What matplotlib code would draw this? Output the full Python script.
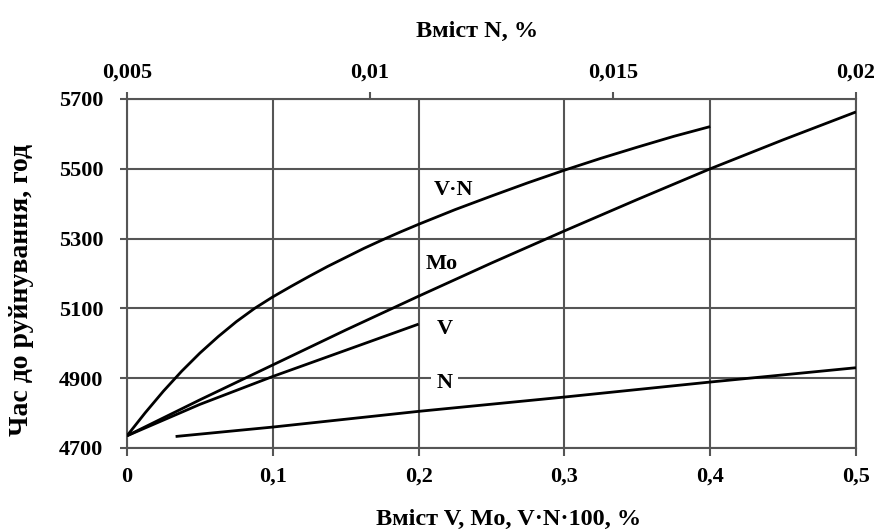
import matplotlib
matplotlib.use("Agg")
import matplotlib.pyplot as plt

# Bottom axis: content of V, Mo, V·N·100, %
vn_x = [0.0, 0.0125, 0.025, 0.0375, 0.05, 0.0625, 0.075, 0.0875, 0.1,
        0.1125, 0.125, 0.1375, 0.15, 0.1625, 0.175, 0.1875, 0.2,
        0.225, 0.25, 0.275, 0.3, 0.325, 0.35, 0.375, 0.4]
vn_y = [4735, 4801, 4863, 4920, 4972, 5019, 5062, 5100, 5133,
        5163, 5192, 5220, 5246, 5272, 5296, 5319, 5341,
        5383, 5422, 5460, 5496, 5530, 5562, 5593, 5621]

mo_x = [0.0, 0.05, 0.1, 0.15, 0.2, 0.25, 0.3, 0.35, 0.4, 0.45, 0.5]
mo_y = [4735, 4838, 4938, 5038, 5135, 5230, 5322, 5412, 5500, 5583, 5663]

v_x = [0.0, 0.05, 0.1, 0.15, 0.2]
v_y = [4735, 4825, 4905, 4980, 5055]

# Top axis: content of N, %
n_x = [0.006, 0.008, 0.011, 0.014, 0.017, 0.02]
n_y = [4733, 4760, 4805, 4846, 4889, 4930]

bottom_ticks = [0.0, 0.1, 0.2, 0.3, 0.4, 0.5]
bottom_labels = ["0", "0,1", "0,2", "0,3", "0,4", "0,5"]
top_ticks = [0.005, 0.01, 0.015, 0.02]
top_labels = ["0,005", "0,01", "0,015", "0,02"]
y_ticks = [4700, 4900, 5100, 5300, 5500, 5700]
y_labels = ["4700", "4900", "5100", "5300", "5500", "5700"]

plt.rcParams['font.family'] = ['Liberation Serif', 'DejaVu Serif']
plt.rcParams['font.weight'] = 'bold'

fig = plt.figure(figsize=(8.82, 5.31), dpi=100)
ax = fig.add_axes([127/882, 83/531, 729/882, 349/531])

grid_c = '#555555'
ax.set_xlim(0, 0.5)
ax.set_ylim(4700, 5700)
ax.set_xticks(bottom_ticks)
ax.set_xticklabels(bottom_labels)
ax.set_yticks(y_ticks)
ax.set_yticklabels(y_labels)
ax.grid(True, color=grid_c, linewidth=1.5)
for s in ax.spines.values():
    s.set_color(grid_c)
    s.set_linewidth(1.5)
ax.tick_params(axis='x', labelsize=16, color=grid_c, width=1.5, length=5.5, pad=8)
ax.tick_params(axis='y', labelsize=16, color=grid_c, width=1.5, length=5, pad=12)

lw = 2.0
ax.plot(vn_x, vn_y, color='black', lw=lw, solid_capstyle='butt', solid_joinstyle='round', zorder=3)
ax.plot(mo_x, mo_y, color='black', lw=lw, solid_capstyle='butt', solid_joinstyle='round', zorder=3)
ax.plot(v_x, v_y, color='black', lw=lw, solid_capstyle='butt', solid_joinstyle='round', zorder=3)

ax2 = ax.twiny()
ax2.set_xlim(0.005, 0.02)
ax2.set_xticks(top_ticks)
ax2.set_xticklabels(top_labels)
ax2.tick_params(axis='x', labelsize=16, color=grid_c, width=1.5, length=5, pad=7)
for s in ax2.spines.values():
    s.set_visible(False)
ax2.plot(n_x, n_y, color='black', lw=lw, solid_capstyle='butt', solid_joinstyle='round', zorder=3)

ax.text(0.2236, 5438, "V·N", fontsize=16, ha='center', va='center', zorder=4)
ax.text(0.216, 5227, "Mo", fontsize=16, ha='center', va='center', zorder=4)
ax.text(0.218, 5041, "V", fontsize=16, ha='center', va='center', zorder=4)
ax.text(0.218, 4886, "N", fontsize=16, ha='center', va='center', zorder=4,
        bbox=dict(facecolor='white', edgecolor='none', pad=4))

fig.text(477/882, 1 - 31/531, "Вміст N, %", fontsize=17.5, ha='center', va='center')
fig.text(509/882, 1 - 519/531, "Вміст V, Mo, V·N·100, %", fontsize=17.5, ha='center', va='center')
fig.text(22/882, 1 - 290/531, "Час до руйнування, год", fontsize=20, rotation=90,
         ha='center', va='center')

fig.savefig("out.png", dpi=100)
